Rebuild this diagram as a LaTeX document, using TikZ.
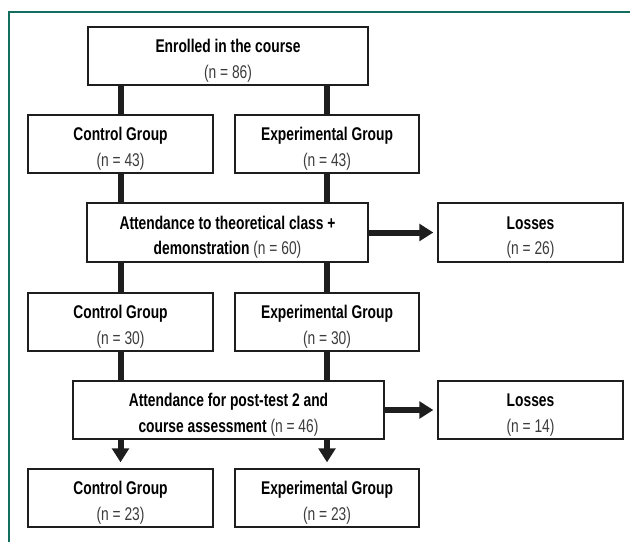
\documentclass[tikz,border=0pt]{standalone}
\usepackage{fontspec}
\setmainfont[FakeStretch=0.75]{Liberation Sans}
\usetikzlibrary{arrows.meta}
\definecolor{frame}{RGB}{20,110,95}
\definecolor{ink}{RGB}{30,30,30}
\definecolor{reg}{RGB}{60,60,60}
\tikzset{
  box/.style={draw=ink, line width=1pt, fill=white, inner sep=0pt, align=center,
    font=\fontsize{13.8}{19}\selectfont},
  conn/.style={draw=ink, line width=4.5pt},
  arr/.style={draw=ink, line width=4.5pt, -{Triangle[length=10.5pt,width=12.5pt]}},
}
\newcommand{\bx}[6]{%
  \node[box, minimum width={(#4-#2)*0.75pt}, minimum height={(#5-#3)*0.75pt}]
    (#1) at ({(#2+#4)/2},{(#3+#5)/2}) {\rule{0pt}{17pt}#6};}
\newcommand{\nn}[1]{{\color{reg}(n = #1)}}
\begin{document}
\begin{tikzpicture}[x=0.75pt,y=-0.75pt]
\useasboundingbox (0,0) rectangle (630,542);
\draw[frame, line width=1.2pt] (9,542) -- (9,12) -- (630,12);
\bx{enr}{88}{27}{368}{85}{\textbf{Enrolled in the course}\\\nn{86}}
\bx{cga}{28}{115}{213}{173}{\textbf{Control Group}\\\nn{43}}
\bx{ega}{235}{115}{419}{173}{\textbf{Experimental Group}\\\nn{43}}
\bx{atta}{87}{203}{368}{262}{\textbf{Attendance to theoretical class +}\\\textbf{demonstration} \nn{60}}
\bx{losa}{438}{203}{623}{262}{\textbf{Losses}\\\nn{26}}
\bx{cgb}{28}{293}{213}{351}{\textbf{Control Group}\\\nn{30}}
\bx{egb}{235}{293}{419}{351}{\textbf{Experimental Group}\\\nn{30}}
\bx{attb}{73}{381}{384}{439}{\textbf{Attendance for post-test 2 and}\\\textbf{course assessment} \nn{46}}
\bx{losb}{438}{381}{623}{439}{\textbf{Losses}\\\nn{14}}
\bx{cgc}{28}{469}{213}{527}{\textbf{Control Group}\\\nn{23}}
\bx{egc}{235}{469}{419}{527}{\textbf{Experimental Group}\\\nn{23}}
% connectors
\draw[conn] (cga.north |- enr.south) -- (cga.north);
\draw[conn] (ega.north |- enr.south) -- (ega.north);
\draw[conn] (cga.south) -- (cga.south |- atta.north);
\draw[conn] (ega.south) -- (ega.south |- atta.north);
\draw[conn] (cgb.north |- atta.south) -- (cgb.north);
\draw[conn] (egb.north |- atta.south) -- (egb.north);
\draw[conn] (cgb.south) -- (cgb.south |- attb.north);
\draw[conn] (egb.south) -- (egb.south |- attb.north);
\draw[arr, shorten >=3pt] (atta.east) -- (losa.west);
\draw[arr, shorten >=3pt] (attb.east) -- (losb.west);
\draw[arr, shorten >=4.5pt] (cgc.north |- attb.south) -- (cgc.north);
\draw[arr, shorten >=4.5pt] (egc.north |- attb.south) -- (egc.north);
\end{tikzpicture}
\end{document}
